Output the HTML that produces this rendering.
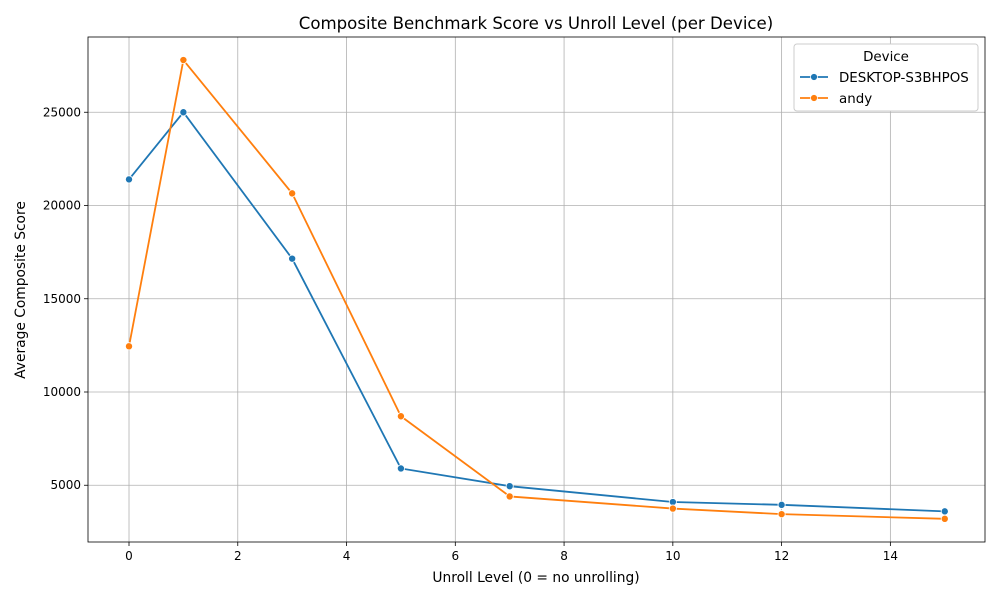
<!DOCTYPE html>
<html><head><meta charset="utf-8">
<style>
body{margin:0;background:#fff;font-family:"Liberation Sans","DejaVu Sans",sans-serif;}
svg text{font-family:"DejaVu Sans","Liberation Sans",sans-serif;fill:#000;}
</style></head>
<body>
<svg id="chart" width="1000" height="600" xmlns="http://www.w3.org/2000/svg">
<rect width="1000" height="600" fill="#fff"/>
<g id="grid"></g>
<g id="axes"></g>
<g id="series"></g>
<text x="536" y="29" font-size="16.6" text-anchor="middle">Composite Benchmark Score vs Unroll Level (per Device)</text>
<text x="536" y="582" font-size="13.8" text-anchor="middle">Unroll Level (0 = no unrolling)</text>
<text transform="translate(25,290) rotate(-90)" font-size="13.8" text-anchor="middle">Average Composite Score</text>
<g>
<rect x="794" y="44" width="184" height="67" fill="#fff" stroke="#ccc" rx="3"/>
<text x="886" y="61" font-size="13.4" text-anchor="middle">Device</text>
<g><line x1="800" y1="77" x2="828" y2="77" stroke="#1f77b4" stroke-width="1.8"/><circle cx="814" cy="77" r="3.5" fill="#1f77b4" stroke="#fff" stroke-width="0.8"/><text x="839" y="82" font-size="13.4">DESKTOP-S3BHPOS</text></g>
<g><line x1="800" y1="98" x2="828" y2="98" stroke="#ff7f0e" stroke-width="1.8"/><circle cx="814" cy="98" r="3.5" fill="#ff7f0e" stroke="#fff" stroke-width="0.8"/><text x="839" y="103" font-size="13.4">andy</text></g>
</g>
</svg>
<script>
const unrollLevels=[0,1,3,5,7,10,12,15];
const desktopScores=[21400,25000,17150,5900,4950,4100,3950,3600];
const andyScores=[12450,27800,20650,8700,4400,3750,3450,3200];
const xTicks=[0,2,4,6,8,10,12,14];
const yTicks=[5000,10000,15000,20000,25000];
const L=88,R=985,T=37,B=542;
const xMin=-0.754,xMax=15.74,yMin=1957,yMax=29035;
const xs=v=>L+(v-xMin)/(xMax-xMin)*(R-L);
const ys=v=>B-(v-yMin)/(yMax-yMin)*(B-T);
const NS="http://www.w3.org/2000/svg";
function mk(tag,attrs,parent){const e=document.createElementNS(NS,tag);for(const k in attrs)e.setAttribute(k,attrs[k]);parent.appendChild(e);return e;}
const grid=document.getElementById('grid'),axes=document.getElementById('axes'),series=document.getElementById('series');
xTicks.forEach(t=>{const x=xs(t);
 const g=mk('line',{x1:x,x2:x,y1:T,y2:B,stroke:'#b0b0b0','stroke-width':0.8},grid);
 
 
 mk('line',{x1:x,x2:x,y1:B,y2:B+4,stroke:'#000','stroke-width':0.8},axes);
 const tx=mk('text',{x:x,y:B+18,'font-size':12,'text-anchor':'middle'},axes);tx.textContent=t;
 
 
});
yTicks.forEach(t=>{const y=ys(t);
 const g=mk('line',{x1:L,x2:R,y1:y,y2:y,stroke:'#b0b0b0','stroke-width':0.8},grid);
 
 
 mk('line',{x1:L-4,x2:L,y1:y,y2:y,stroke:'#000','stroke-width':0.8},axes);
 const tx=mk('text',{x:L-7,y:y+4,'font-size':12,'text-anchor':'end'},axes);tx.textContent=t;
 
 
});
const frame=mk('rect',{x:L,y:T,width:R-L,height:B-T,fill:'none',stroke:'#000','stroke-width':0.8},axes);


function draw(vals,color,name){
 const pts=unrollLevels.map((u,i)=>xs(u)+','+ys(vals[i])).join(' ');
 const pl=mk('polyline',{points:pts,fill:'none',stroke:color,'stroke-width':1.8},series);
 
 
 unrollLevels.forEach((u,i)=>{
  const c=mk('circle',{cx:xs(u),cy:ys(vals[i]),r:3.6,fill:color,stroke:'#fff','stroke-width':0.8},series);
  
  
 });
}
draw(desktopScores,'#1f77b4','desktop');
draw(andyScores,'#ff7f0e','andy');
</script>
</body></html>
